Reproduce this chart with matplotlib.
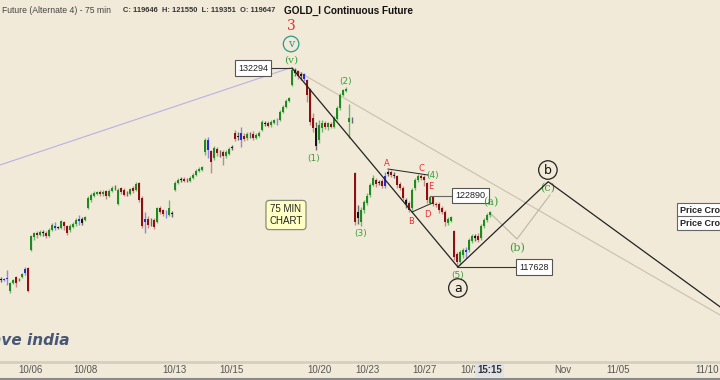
import matplotlib
matplotlib.use("Agg")
import matplotlib.pyplot as plt
from matplotlib.lines import Line2D

# ---------------- data (75-min candles, prices) ----------------
opens = [116740,116670,116740,115860,116450,116890,116670,116890,117190,117550,
         118880,119840,120130,119990,120210,120130,119910,120360,120650,120500,
         120500,120950,120650,120360,120580,120800,121020,121170,121090,121980,
         122570,122860,123010,123160,123010,123230,122860,123230,123520,122270,
         123450,123300,123080,123010,123450,123300,123820,122710,120950,121170,
         120950,121090,120950,121980,121830,121610,121460,121610,123300,123820,
         124040,124110,124040,123970,124190,124410,124700,124780,126100,126990,
         126180,125660,126330,126030,126100,125810,125960,126400,127510,127210,
         127510,127290,127140,127360,127430,127140,127290,127730,128240,128240,
         128090,128240,128390,128460,129050,129420,129860,131040,132150,132070,
         131850,131850,131410,130750,128610,127870,126990,127870,128240,127950,
         128170,127950,128540,129350,130300,130600,128320,128460,124560,121680,
         120950,121830,122340,122940,123670,124040,123890,123970,123600,124480,
         124630,124410,124330,123750,123450,122570,122340,121980,123450,124040,
         124330,124260,123820,122340,122790,122270,122270,121980,121680,120870,
         121020,120280,118590,117990,118510,118730,118880,119540,119910,119910,
         119770,120650,121090,121460]
highs = [116890,116820,117410,116520,116740,116970,116820,117190,117630,117630,
         119990,120210,120280,120360,120360,120280,120500,120870,120950,120650,
         121090,121020,120720,120800,120950,121240,121460,121310,121390,122860,
         123080,123230,123230,123300,123300,123300,123380,123600,123670,123450,
         123520,123450,123230,123450,123600,123890,123890,122860,121680,121390,
         121240,121240,122050,122120,121900,121830,122570,121760,123970,124190,
         124260,124260,124190,124330,124560,124840,124990,125060,127140,127210,
         126250,126550,126470,126250,126250,126250,126470,126620,127730,127580,
         127950,127510,127580,127580,127650,127510,127650,128460,128390,128390,
         128460,128540,128610,129200,129570,130010,130160,132294,132290,132150,
         132000,131930,131480,130820,128980,128320,128460,128460,128390,128320,
         128320,128760,129490,130450,130750,130890,129640,128680,124630,122200,
         122050,122570,123080,123820,124410,124190,124040,124110,124630,124780,
         124780,124630,124410,123890,123600,122710,122490,123450,124190,124480,
         124480,124410,123890,122890,122860,122420,122420,122120,121830,121310,
         121390,120360,118730,118880,119030,119100,119770,120060,120060,120130,
         120800,121240,121610,121760]
lows = [116520,116600,116300,115710,116370,116150,116600,116820,117040,115790,
        118810,119620,119770,119910,119910,119770,119840,120280,120360,120430,
        120430,120360,119990,120210,120500,120650,120720,120720,121020,121900,
        122420,122790,122940,122860,122860,122640,122790,123160,123300,122200,
        123010,122860,122860,122940,123080,123230,122420,120500,120130,120500,
        120650,120430,120870,121540,121390,121240,121390,121310,123230,123750,
        123890,123890,123890,123890,124110,124330,124630,124700,125880,125660,
        124560,125510,125810,125730,125140,125660,125880,126250,126920,126990,
        126470,126920,126990,127140,126990,127060,127210,127650,128020,127950,
        127950,128170,128090,128390,128980,129350,129790,130970,131700,131480,
        131410,131340,129790,128090,127580,126250,126770,127580,127800,127730,
        127870,127870,128460,129200,130230,130530,127140,128240,120720,120800,
        120650,121610,122200,122790,123600,123520,123670,123450,123450,124330,
        124260,124190,123450,123300,122570,121980,121680,121830,123300,123890,
        124040,123600,122340,122270,122120,122050,121610,121540,120650,120720,
        120950,118140,117628,117770,118290,118290,118730,119400,119540,119470,
        119620,120500,120950,121310]
closes = [116670,116740,116820,116450,116670,116450,116640,117110,117480,115860,
          119910,120130,119990,120210,120130,119910,120360,120720,120500,120530,
          121020,120650,120130,120650,120800,121090,121170,120870,121310,122710,
          122940,123080,123160,123010,123160,122860,123230,123450,123490,123300,
          123160,122940,123050,123380,123230,123750,122570,120650,121170,120720,
          120920,120580,121980,121680,121540,121580,121980,121540,123820,124040,
          124110,123970,124010,124190,124410,124700,124840,124990,126990,126250,
          125370,126400,126030,126000,125810,126100,126330,126470,127060,127290,
          126990,127060,127430,127330,127140,127360,127510,128320,128170,128020,
          128320,128460,128360,129050,129420,129860,130080,132150,131930,131700,
          131700,131480,130300,128320,127870,126550,128090,128240,127950,128240,
          127950,128610,129350,130300,130670,130750,128610,128430,120950,121240,
          121830,122420,122860,123670,124190,123750,123820,123600,124330,124630,
          124410,124330,123670,123450,122710,122270,121830,123300,124040,124330,
          124190,124040,122570,122790,122270,122200,121830,121680,120950,121170,
          121310,118360,117990,118730,118880,118880,119620,119910,119770,119620,
          120650,121090,121460,121680]
colors = ("kbbggrkgbr" "ggrgkrggbk" "grrgggbkgg" "gggrgrggkg" "rrkgrgrrbr"
          "krgrrbgkgg" "krkggggggb" "rgrkrggkrk" "brgkrgggkr" "ggbgggggkr"
          "kbrrrkggrg" "rggggggkrk" "gggggrkrbk" "rkrrrkrggg" "rrrgrrrrrg"
          "grrggbggkr" "gggg")
tick_pos = [10, 28.3, 57.7, 76.7, 106, 122, 141.3, 157.3, 187.3, 205.7, 235.3]
tick_labels = ["10/06", "10/08", "10/13", "10/15", "10/20", "10/23", "10/27",
               "10/29", "Nov", "11/05", "11/10"]
peak_price, low_price, e_price = 132294, 117628, 122890

# ---------------- figure ----------------
BG = "#f2ead8"
SANS = "Liberation Sans"
fig = plt.figure(figsize=(7.2, 3.8), dpi=100, facecolor=BG)
ax = fig.add_axes([0, 18 / 380, 1, 362 / 380], facecolor=BG)
ax.set_xlim(-0.33, 239.67)
ax.set_ylim(110627, 137306)

body_c = {"g": "#1f8a1f", "r": "#8b1010", "k": "#151515", "b": "#2b2bd0"}
wick_c = {"g": "#6fb86f", "r": "#c08a8a", "k": "#6a6a6a", "b": "#8a8ae0"}
min_h = 50
for i in range(len(closes)):
    o, h, l, c = opens[i], highs[i], lows[i], closes[i]
    col = colors[i]
    ax.vlines(i, l, h, color=wick_c[col], lw=1.0, zorder=2)
    bot = min(o, c)
    hgt = max(abs(c - o), min_h)
    ax.bar(i, hgt, bottom=bot, width=0.8, color=body_c[col], lw=0, zorder=3)

# ---------------- wave lines ----------------
ax.plot([-0.33, 96.3], [125145, peak_price], color="#b8b0e4", lw=0.8, zorder=1)
ax.plot([97, 239.7], [peak_price, 114090], color="#c9bfae", lw=0.8, zorder=1)
ax.plot([97, 152.3], [peak_price, low_price], color="#222222", lw=0.9, zorder=4)
ax.plot([152.3, 182.4, 240], [low_price, 123915, 114643], color="#222222", lw=0.9, zorder=4)
ax.plot([163, 172, 183], [121610, 119690, 122935], color="#bdb5a5", lw=0.8, zorder=1)
ax.plot([129, 142.3], [124850, 124410], color="#222222", lw=0.7, zorder=4)
ax.plot([137, 143.7], [121680, 122340], color="#222222", lw=0.7, zorder=4)
# label connectors
ax.plot([89.7, 97], [peak_price, peak_price], color="#333333", lw=0.8, zorder=4)
ax.plot([143, 151.3], [e_price, e_price], color="#666666", lw=0.8, zorder=4)
ax.plot([152.3, 172.7], [low_price, low_price], color="#333333", lw=0.8, zorder=4)

box = dict(boxstyle="square,pad=0.35", fc="white", ec="#555555", lw=0.8)
for xi, val in [(84, peak_price), (156.5, e_price), (177.7, low_price)]:
    ax.text(xi, val, str(val), fontsize=6.5, family=SANS, ha="center", va="center",
            color="#222", bbox=box, zorder=6)
pbox = dict(boxstyle="square,pad=0.3", fc="white", ec="#666666", lw=0.8)
ax.text(226.3, 121792, "Price Crossover", fontsize=6.5, family=SANS, fontweight="bold", ha="left",
        va="center", color="#222", bbox=pbox, zorder=6)
ax.text(226.3, 120850, "Price Crossover", fontsize=6.5, family=SANS, fontweight="bold", ha="left",
        va="center", color="#222", bbox=pbox, zorder=6)

ax.text(95, 121460, "75 MIN\nCHART", fontsize=7, family=SANS, ha="center", va="center", color="#222",
        linespacing=1.3, bbox=dict(boxstyle="round,pad=0.35", fc="#ffffc4", ec="#8a8a7a", lw=0.9), zorder=6)

# ---------------- wave labels ----------------
GREEN = "#3aa03a"
RED = "#e83030"
ax.text(96.7, 135390, "3", fontsize=10, color=RED, family="DejaVu Serif", ha="center", va="center")
ax.text(96.7, 134063, "v", fontsize=8, color="#2a9a8a", family="DejaVu Serif", ha="center", va="center",
        bbox=dict(boxstyle="circle,pad=0.25", fc="none", ec="#2a9a8a", lw=0.9))
ax.text(96.7, 132884, "(v)", fontsize=7.5, color=GREEN, family="DejaVu Serif", ha="center", va="center")
ax.text(104.3, 125588, "(1)", fontsize=6.5, color=GREEN, ha="center", va="center")
ax.text(115, 131336, "(2)", fontsize=6.5, color=GREEN, ha="center", va="center")
ax.text(120, 120134, "(3)", fontsize=6.5, color=GREEN, ha="center", va="center")
ax.text(143.7, 124335, "(4)", fontsize=6.5, color=GREEN, ha="center", va="center")
ax.text(152.3, 117038, "(5)", fontsize=6.5, color=GREEN, ha="center", va="center")
for lab, xi, yp in [("A", 128.7, 125293), ("B", 136.7, 121018), ("C", 140, 124924),
                    ("D", 142, 121534), ("E", 143.3, 123598)]:
    ax.text(xi, yp, lab, fontsize=6, color=RED, ha="center", va="center")
ax.text(163.2, 122420, "(a)", fontsize=8, color=GREEN, family="DejaVu Serif", ha="center", va="center",
        zorder=6)
ax.text(172, 119028, "(b)", fontsize=8, color=GREEN, family="DejaVu Serif", ha="center", va="center")
ax.text(182.3, 123450, "(c)", fontsize=8, color=GREEN, family="DejaVu Serif", ha="center", va="center")
circ = dict(boxstyle="circle,pad=0.22", fc=BG, ec="#222222", lw=0.9)
ax.text(152.3, 116080, "a", fontsize=9, color="#111", ha="center", va="center", bbox=circ, zorder=6)
ax.text(182.3, 124777, "b", fontsize=9, color="#111", ha="center", va="center", bbox=circ, zorder=6)

# ---------------- axes styling ----------------
for s in ["top", "left", "right"]:
    ax.spines[s].set_visible(False)
ax.spines["bottom"].set_color("#d6cebe")
ax.spines["bottom"].set_linewidth(2)
ax.set_yticks([])
ax.set_xticks(tick_pos)
ax.set_xticklabels(tick_labels, fontsize=7, color="#555555", family=SANS)
ax.tick_params(axis="x", length=0, pad=2.5)
ax.text(162.8, -0.023, "15:15", transform=ax.get_xaxis_transform(), fontsize=7, fontweight="bold",
        family=SANS, color="#333", ha="center", va="center",
        bbox=dict(boxstyle="square,pad=0.18", fc="#dfe2e6", ec="none"), zorder=7)

# header
fig.text(0.003, 0.972, "Future (Alternate 4) - 75 min", fontsize=6.2, family=SANS, color="#444444", va="center")
fig.text(0.171, 0.972, "C: 119646  H: 121550  L: 119351  O: 119647", fontsize=5.4, family=SANS,
         fontweight="bold", color="#333333", va="center")
fig.text(0.394, 0.972, "GOLD_I Continuous Future", fontsize=7.2, family=SANS, fontweight="bold",
         color="#111111", va="center")

# watermark
fig.text(0.097, 0.105, "wave india", fontsize=11, fontweight="bold", style="italic", color="#34476a",
         ha="right", va="center", alpha=0.9)

fig.add_artist(Line2D([0, 1], [0.003, 0.003], color="#8a8a8a", lw=1.5))

fig.savefig("out.png", dpi=100, facecolor=BG)
